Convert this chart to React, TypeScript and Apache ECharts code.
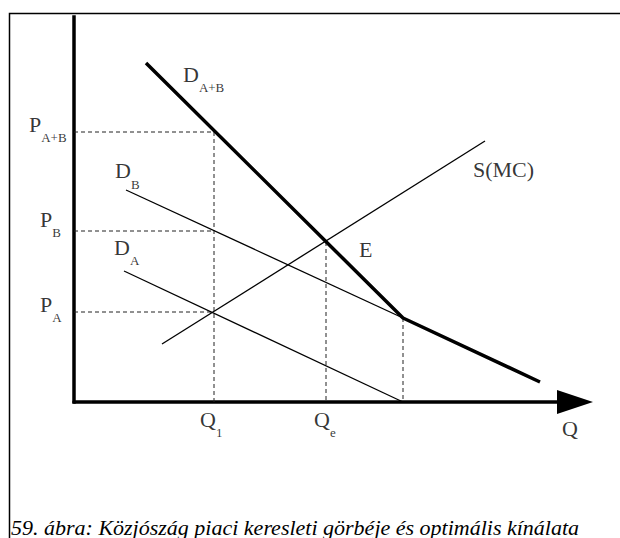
import React, { useEffect, useRef } from 'react';
import * as echarts from 'echarts';

const FONT = 'Liberation Serif';

// Curves (quantity, price) in chart units
const demandAB = [[72, 339], [329, 84], [466, 20]];
const demandB = [[52, 212], [329, 84]];
const demandA = [[50, 131], [329, 0]];
const supplyMC = [[88, 58], [411, 261]];

// Key levels
const priceLevels = [270, 171, 90]; // P_A+B, P_B, P_A
const q1 = 140;
const qe = 252;
const eqPrice = 160;
const qKink = 329;
const kinkPrice = 84;

// Annotation labels: [x, y, main, subscript]
const labelItems: [number, number, string, string][] = [
  [109, 339, 'D', 'A+B'],
  [-45, 289, 'P', 'A+B'],
  [41, 242.5, 'D', 'B'],
  [-34, 194, 'P', 'B'],
  [40, 166, 'D', 'A'],
  [-34, 109, 'P', 'A'],
  [285, 164, 'E', ''],
  [399, 244, 'S(MC)', ''],
  [126, -6, 'Q', '1'],
  [240, -6, 'Q', 'e'],
  [488, -15.5, 'Q', ''],
];

const caption = '59. ábra: Közjószág piaci keresleti görbéje és optimális kínálata';

function solid(data: number[][], width: number) {
  return {
    type: 'line', data, symbol: 'none', silent: true,
    lineStyle: { color: '#000', width }, z: 3,
  };
}
function dashed(data: number[][]) {
  return {
    type: 'line', data, symbol: 'none', silent: true,
    lineStyle: { color: '#222', width: 1, type: [4, 3] }, z: 2,
  };
}

export default function App() {
  const ref = useRef<HTMLDivElement>(null);
  useEffect(() => {
    const chart = echarts.init(ref.current!, null, { renderer: 'svg' });
    const guides = [
      [[0, priceLevels[0]], [q1, priceLevels[0]], [q1, 0]],
      [[0, priceLevels[1]], [q1, priceLevels[1]]],
      [[0, priceLevels[2]], [q1, priceLevels[2]]],
      [[qe, eqPrice], [qe, 0]],
      [[qKink, kinkPrice], [qKink, 0]],
    ];
    chart.setOption({
      animation: false,
      backgroundColor: '#fff',
      textStyle: { fontFamily: FONT },
      grid: { left: 74, right: 63, top: 17, bottom: 136 },
      xAxis: {
        type: 'value', min: 0, max: 483,
        axisLine: {
          show: true, onZero: false,
          symbol: ['none', 'triangle'], symbolSize: [24, 36], symbolOffset: [0, 18],
          lineStyle: { color: '#000', width: 3.5 },
        },
        axisTick: { show: false }, axisLabel: { show: false }, splitLine: { show: false },
      },
      yAxis: {
        type: 'value', min: 0, max: 385,
        axisLine: { show: true, onZero: false, lineStyle: { color: '#000', width: 3.5, cap: 'square' } },
        axisTick: { show: false }, axisLabel: { show: false }, splitLine: { show: false },
      },
      series: [
        ...guides.map(dashed),
        solid(demandB, 1.3),
        solid(demandA, 1.3),
        solid(supplyMC, 1.3),
        solid(demandAB, 3.5),
        {
          type: 'scatter', silent: true, clip: false, symbolSize: 0,
          data: labelItems.map(([x, y, main, sub]) => ({ value: [x, y], main, sub })),
          label: {
            show: true, position: [0, 0], align: 'left', verticalAlign: 'top',
            fontFamily: FONT,
            formatter: (p: any) => p.data.sub ? `{m|${p.data.main}}{s|${p.data.sub}}` : `{m|${p.data.main}}`,
            rich: {
              m: { fontFamily: FONT, fontSize: 22, lineHeight: 24, verticalAlign: 'top', color: '#000' },
              s: { fontFamily: FONT, fontSize: 13, lineHeight: 14, padding: [18, 0, 0, 0], verticalAlign: 'top', color: '#000' },
            },
          },
          z: 5,
        },
      ],
      graphic: [
        {
          type: 'polyline', silent: true,
          shape: { points: [[9.5, 540], [9.5, 13.5], [622, 13.5]] },
          style: { stroke: '#000', lineWidth: 1.5, fill: null },
        },
        {
          type: 'text', silent: true, left: 11, top: 516,
          style: { text: caption, fontFamily: FONT, fontSize: 22, fontStyle: 'italic', fill: '#000' },
        },
      ],
    });
    return () => chart.dispose();
  }, []);
  return <div ref={ref} style={{ position: 'fixed', left: 0, top: 0, width: 620, height: 538, background: '#fff' }} />;
}
